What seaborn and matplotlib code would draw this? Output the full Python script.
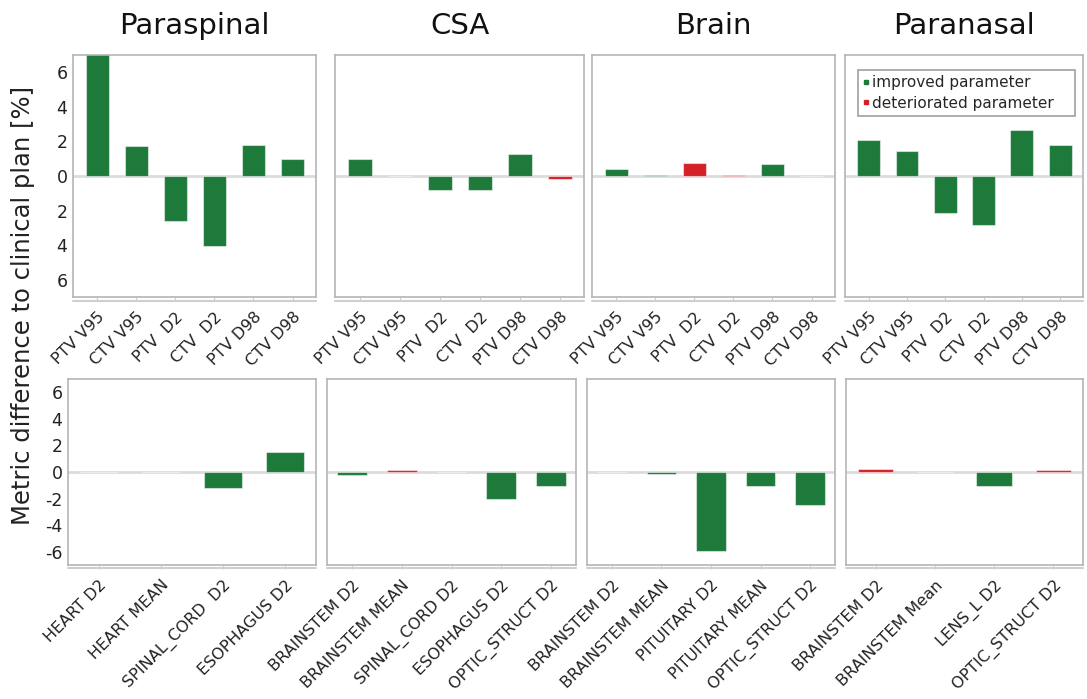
import matplotlib
matplotlib.use("Agg")
import matplotlib.pyplot as plt
from matplotlib.lines import Line2D
import pandas as pd
import seaborn as sns

# ---- data ----
panel_titles = ["Paraspinal", "CSA", "Brain", "Paranasal"]

target_labels = ["PTV V95", "CTV V95", "PTV  D2", "CTV  D2", "PTV D98", "CTV D98"]
target_values = {
    "Paraspinal": [7.3, 1.74, -2.6, -4.03, 1.81, 0.97],
    "CSA": [0.98, 0.0, -0.81, -0.81, 1.27, -0.2],
    "Brain": [0.4, 0.05, 0.73, 0.07, 0.68, 0.02],
    "Paranasal": [2.08, 1.47, -2.12, -2.84, 2.66, 1.78],
}
target_status = {
    "Paraspinal": ["imp", "imp", "imp", "imp", "imp", "imp"],
    "CSA": ["imp", "imp", "imp", "imp", "imp", "det"],
    "Brain": ["imp", "imp", "det", "det", "imp", "imp"],
    "Paranasal": ["imp", "imp", "imp", "imp", "imp", "imp"],
}

oar_labels = {
    "Paraspinal": ["HEART D2", "HEART MEAN", "SPINAL_CORD  D2", "ESOPHAGUS D2"],
    "CSA": ["BRAINSTEM D2", "BRAINSTEM MEAN", "SPINAL_CORD D2", "ESOPHAGUS D2", "OPTIC_STRUCT D2"],
    "Brain": ["BRAINSTEM D2", "BRAINSTEM MEAN", "PITUITARY D2", "PITUITARY MEAN", "OPTIC_STRUCT D2"],
    "Paranasal": ["BRAINSTEM D2", "BRAINSTEM Mean", "LENS_L D2", "OPTIC_STRUCT D2"],
}
oar_values = {
    "Paraspinal": [0.0, 0.02, -1.18, 1.53],
    "CSA": [-0.2, 0.12, -0.03, -2.06, -1.03],
    "Brain": [0.03, -0.15, -5.93, -1.08, -2.46],
    "Paranasal": [0.22, -0.03, -1.08, 0.12],
}
oar_status = {
    "Paraspinal": ["imp", "imp", "imp", "imp"],
    "CSA": ["imp", "det", "imp", "imp", "imp"],
    "Brain": ["imp", "imp", "imp", "imp", "imp"],
    "Paranasal": ["det", "det", "imp", "det"],
}

GREEN = "#1d7a3b"
RED = "#d42027"
palette = {"imp": GREEN, "det": RED}

sns.set_style("white")
plt.rcParams['font.family'] = ['DejaVu Sans']

W, H = 1087, 699
fig = plt.figure(figsize=(W / 100, H / 100), dpi=100)

# axes boxes in pixels (left, right) and (top, bottom)
top_x = [(73, 316), (335, 584), (592, 835), (845, 1083)]
bot_x = [(68, 316), (327, 576), (587, 835), (846, 1083)]
top_y = (55, 297)
bot_y = (379, 565)


def make_ax(xs, ys):
    l, r = xs
    t, b = ys
    return fig.add_axes([l / W, 1 - b / H, (r - l) / W, (b - t) / H])


def draw_panel(ax, labels, values, status, first, top_row):
    df = pd.DataFrame({"label": labels, "value": values, "status": status})
    ax.axhline(0, color="#dcdcdc", lw=2, zorder=0)
    sns.barplot(data=df, x="label", y="value", hue="status", palette=palette,
                order=labels, dodge=False, width=0.6, legend=False, ax=ax,
                saturation=1, edgecolor=(1, 1, 1, 0.5), linewidth=0.8, zorder=2)
    n = len(labels)
    ax.set_ylim(-7, 7)
    if top_row:
        ax.set_xlim(-0.62, n - 1 + 0.6)
    else:
        ax.set_xlim(-0.5, n - 0.5)
    ax.set_xlabel("")
    ax.set_ylabel("")
    for sp in ax.spines.values():
        sp.set_color("#b5b5b5")
        sp.set_linewidth(1.2)
    ax.set_xticks(range(n))
    ax.set_xticklabels(labels, rotation=45, ha="right", rotation_mode="anchor",
                       fontsize=11.5, color="#222222")
    ax.tick_params(axis="x", length=3, color="#cccccc", pad=6, direction="out", bottom=True)
    yt = [6, 4, 2, 0, -2, -4, -6]
    ax.set_yticks(yt)
    if first:
        if top_row:
            ax.set_yticklabels([str(abs(v)) for v in yt], fontsize=12.5, color="#222222")
        else:
            ax.set_yticklabels([str(v) for v in yt], fontsize=12.5, color="#222222")
        ax.tick_params(axis="y", length=0, pad=4)
    else:
        ax.set_yticklabels([])
        ax.tick_params(axis="y", length=0)
    # faint second axis line under the frame
    ax.plot([0, 1], [-0.018, -0.018], transform=ax.transAxes, color="#cfcfcf",
            lw=1.5, clip_on=False)


for i, name in enumerate(panel_titles):
    ax_t = make_ax(top_x[i], top_y)
    draw_panel(ax_t, target_labels, target_values[name], target_status[name], i == 0, True)
    ax_t.set_title(name, fontsize=21, pad=15, color="#111111")

    ax_b = make_ax(bot_x[i], bot_y)
    draw_panel(ax_b, oar_labels[name], oar_values[name], oar_status[name], i == 0, False)

    if i == 3:
        handles = [
            Line2D([], [], marker="s", ls="", color=GREEN, markersize=3.5),
            Line2D([], [], marker="s", ls="", color=RED, markersize=3.5),
        ]
        leg = ax_t.legend(handles, ["improved parameter", "deteriorated parameter"],
                          loc="upper left", bbox_to_anchor=(0.022, 0.5, 0.975, 0.47),
                          mode="expand", fontsize=11, handlelength=0.4,
                          handletextpad=0.2, borderpad=0.35, labelspacing=0.35,
                          fancybox=False, frameon=True, edgecolor="#888888")
        leg.get_frame().set_linewidth(1.2)

fig.text(23 / W, 1 - 305 / H, "Metric difference to clinical plan [%]", rotation=90,
         ha="center", va="center", fontsize=17.5, color="#222222")

fig.savefig("out.png", dpi=100, facecolor="white")
